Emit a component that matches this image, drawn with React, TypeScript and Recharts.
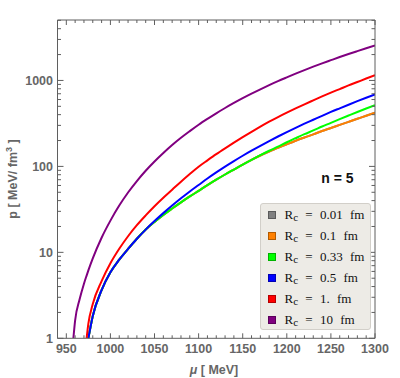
import React from 'react';
import { LineChart, Line, XAxis, YAxis, Legend } from 'recharts';

// chemical potential grid (MeV)
const mu = [958, 960, 965, 970, 973, 975, 980, 990, 1000, 1010, 1020, 1030, 1040, 1050, 1060, 1070, 1080, 1090, 1100, 1110, 1120, 1130, 1140, 1150, 1160, 1170, 1180, 1190, 1200, 1210, 1220, 1230, 1240, 1250, 1260, 1270, 1280, 1290, 1300];

// pressure (MeV/fm^3) per core radius
const pRc001 = [null, null, null, null, null, 1, 1.82, 3.63, 5.85, 8.22, 10.96, 14.4, 18.4, 22.6, 27.3, 32.4, 38.2, 44.7, 52.0, 60.5, 70.0, 80.5, 92.0, 105, 119, 134, 149, 164, 181, 199, 217, 236, 258, 280, 304, 330, 358, 388, 421];
const pRc01 = [null, null, null, null, null, 1, 1.82, 3.63, 5.85, 8.22, 10.96, 14.4, 18.4, 22.6, 27.3, 32.4, 38.2, 44.7, 52.0, 60.5, 70.0, 80.5, 92.0, 105, 119, 134, 149, 164, 181, 199, 217, 236, 258, 280, 304, 330, 358, 388, 421];
const pRc033 = [null, null, null, null, null, 1, 1.82, 3.63, 5.85, 8.22, 10.96, 14.4, 18.4, 22.6, 27.3, 32.4, 38.2, 44.7, 52.0, 60.5, 70.0, 80.5, 92.0, 105, 119, 135, 152, 170, 191, 213, 237, 262, 291, 321, 355, 391, 430, 471, 516];
const pRc05 = [null, null, null, null, null, 1, 1.82, 3.63, 5.85, 8.22, 10.96, 14.4, 18.4, 23.1, 28.6, 35.0, 42.5, 51.1, 60.8, 72.3, 85.1, 99.5, 115.3, 133, 152.4, 173.8, 197.2, 222.8, 250.6, 281.2, 314, 349, 388, 430, 474, 522, 574, 630, 689];
const pRc1 = [null, null, null, null, 1, 1.48, 2.51, 4.62, 7.46, 11.0, 15.4, 20.7, 26.9, 34.4, 43.2, 53.5, 66.4, 81.5, 99.1, 117.5, 138.7, 162.2, 188.8, 218.8, 252.3, 289.7, 331, 375, 422, 473, 528, 587, 652, 721, 794, 875, 959, 1052, 1151];
const pRc10 = [1, 1.62, 2.82, 4.32, 5.37, 6.17, 8.51, 14.8, 23.4, 35.0, 49.7, 67.6, 89.0, 114, 143, 177, 215, 257, 305, 357, 415, 478, 547, 622, 702, 788, 881, 981, 1086, 1200, 1320, 1447, 1581, 1721, 1872, 2030, 2194, 2368, 2550];

const seriesKeys = ['rc001', 'rc01', 'rc033', 'rc05', 'rc1', 'rc10'];
const seriesRadii = ['0.01', '0.1', '0.33', '0.5', '1.', '10'];
const seriesColors = ['#808080', '#FF8000', '#00FF00', '#0000FF', '#FF0000', '#800080'];
const seriesBorders = ['#5a5a5a', '#b35a00', '#00b300', '#0000b3', '#b30000', '#5a005a'];

const xMajorTicks = [950, 1000, 1050, 1100, 1150, 1200, 1250, 1300];
const xTicks = [940, 950, 960, 970, 980, 990, 1000, 1010, 1020, 1030, 1040, 1050, 1060, 1070, 1080, 1090, 1100, 1110, 1120, 1130, 1140, 1150, 1160, 1170, 1180, 1190, 1200, 1210, 1220, 1230, 1240, 1250, 1260, 1270, 1280, 1290, 1300];
const yMajorTicks = [1, 10, 100, 1000];
const yTicks = [1, 2, 3, 4, 5, 6, 7, 8, 9, 10, 20, 30, 40, 50, 60, 70, 80, 90, 100, 200, 300, 400, 500, 600, 700, 800, 900, 1000, 2000, 3000, 4000, 5000];

const xDomain = [940, 1300];
const yDomain = [1, 5050];

const data = mu.map((m, i) => ({
  mu: m,
  rc001: pRc001[i],
  rc01: pRc01[i],
  rc033: pRc033[i],
  rc05: pRc05[i],
  rc1: pRc1[i],
  rc10: pRc10[i],
}));

const frameColor = '#5f5f5f';
const labelColor = '#666666';
const labelFont = '"Liberation Sans", Arial, sans-serif';

const BottomTick = (props: any) => {
  const { x, y, payload } = props;
  const major = xMajorTicks.includes(payload.value);
  return (
    <g>
      <line x1={x} x2={x} y1={y} y2={y - (major ? 5 : 3)} stroke={frameColor} strokeWidth={1} />
      {major && (
        <text x={x} y={y + 14.5} textAnchor="middle" fontFamily={labelFont} fontWeight="bold" fontSize={12.5} fill={labelColor}>
          {payload.value}
        </text>
      )}
    </g>
  );
};

const TopTick = (props: any) => {
  const { x, y, payload } = props;
  const major = xMajorTicks.includes(payload.value);
  return <line x1={x} x2={x} y1={y} y2={y + (major ? 5 : 3)} stroke={frameColor} strokeWidth={1} />;
};

const LeftTick = (props: any) => {
  const { x, y, payload } = props;
  const major = yMajorTicks.includes(payload.value);
  return (
    <g>
      <line x1={x} x2={x + (major ? 6 : 3.5)} y1={y} y2={y} stroke={frameColor} strokeWidth={1} />
      {major && (
        <text x={x - 4.5} y={y + 4.5} textAnchor="end" fontFamily={labelFont} fontWeight="bold" fontSize={12.5} fill={labelColor}>
          {payload.value}
        </text>
      )}
    </g>
  );
};

const RightTick = (props: any) => {
  const { x, y, payload } = props;
  const major = yMajorTicks.includes(payload.value);
  return <line x1={x} x2={x - (major ? 6 : 3.5)} y1={y} y2={y} stroke={frameColor} strokeWidth={1} />;
};

const XTitle = () => (
  <text x={214} y={373.5} textAnchor="middle" fontFamily={labelFont} fontWeight="bold" fontSize={12.5} fill={labelColor}>
    <tspan fontStyle="italic">μ</tspan>
    <tspan>{'  [ MeV]'}</tspan>
  </text>
);

const YTitle = () => (
  <text transform="translate(16.5,179) rotate(-90)" textAnchor="middle" fontFamily={labelFont} fontWeight="bold" fontSize={12.5} fill={labelColor}>
    <tspan>{'p  [ MeV/ fm'}</tspan>
    <tspan dy={-5} fontSize={9}>3</tspan>
    <tspan dy={5}>{' ]'}</tspan>
  </text>
);

const NLabel = () => (
  <text x={337.5} y={183} textAnchor="middle" fontFamily={labelFont} fontWeight="bold" fontSize={14} fill="#111">
    n = 5
  </text>
);

const renderLegend = () => (
  <div
    style={{
      width: 111,
      height: 127,
      boxSizing: 'border-box',
      background: '#EDEBE6',
      border: '1px solid #D2CFC9',
      borderRadius: 3,
      paddingTop: 0.5,
      paddingLeft: 7,
      fontFamily: '"Liberation Serif", "Times New Roman", serif',
      fontSize: 13,
      color: '#111',
      textAlign: 'left',
    }}
  >
    {seriesRadii.map((r, i) => (
      <div key={r} style={{ height: 21, display: 'flex', alignItems: 'center', whiteSpace: 'pre' }}>
        <span
          style={{
            display: 'inline-block',
            width: 7.5,
            height: 7.5,
            boxSizing: 'border-box',
            background: seriesColors[i],
            border: `1px solid ${seriesBorders[i]}`,
            marginRight: 9,
          }}
        />
        <span style={{ wordSpacing: 4 }}>
          R<span style={{ fontSize: 11, position: 'relative', top: 2 }}>c</span>
          {' = ' + r + ' fm'}
        </span>
      </div>
    ))}
  </div>
);

export default function App() {
  return (
    <div style={{ position: 'absolute', left: 0, top: 0, width: 400, height: 378, background: '#fff' }}>
      <LineChart width={400} height={378} data={data} margin={{ top: 0, right: 0, bottom: 0, left: 0 }}>
        <XAxis
          dataKey="mu"
          type="number"
          domain={xDomain}
          ticks={xTicks}
          interval={0}
          height={39.7}
          tickSize={0}
          tickMargin={0}
          tickLine={false}
          axisLine={{ stroke: frameColor }}
          tick={(p: any) => <BottomTick {...p} />}
          allowDataOverflow
          label={<XTitle />}
        />
        <XAxis
          xAxisId="top"
          orientation="top"
          dataKey="mu"
          type="number"
          domain={xDomain}
          ticks={xTicks}
          interval={0}
          height={20}
          tickSize={0}
          tickMargin={0}
          tickLine={false}
          axisLine={{ stroke: frameColor }}
          tick={(p: any) => <TopTick {...p} />}
          allowDataOverflow
        />
        <YAxis
          type="number"
          scale="log"
          domain={yDomain}
          ticks={yTicks}
          interval={0}
          width={57.5}
          tickSize={0}
          tickMargin={0}
          tickLine={false}
          axisLine={{ stroke: frameColor }}
          tick={(p: any) => <LeftTick {...p} />}
          allowDataOverflow
          label={<YTitle />}
        />
        <YAxis
          yAxisId="right"
          orientation="right"
          type="number"
          scale="log"
          domain={yDomain}
          ticks={yTicks}
          interval={0}
          width={25}
          tickSize={0}
          tickMargin={0}
          tickLine={false}
          axisLine={{ stroke: frameColor }}
          tick={(p: any) => <RightTick {...p} />}
          allowDataOverflow
          label={<NLabel />}
        />
        {seriesKeys.map((k, i) => (
          <Line
            key={k}
            dataKey={k}
            name={k}
            type="monotone"
            stroke={seriesColors[i]}
            strokeWidth={2}
            dot={false}
            activeDot={false}
            isAnimationActive={false}
          />
        ))}
        <Legend
          content={renderLegend}
          layout="vertical"
          align="center"
          verticalAlign="middle"
          wrapperStyle={{ left: 260, top: 203, width: 111, height: 127 }}
        />
      </LineChart>
    </div>
  );
}
